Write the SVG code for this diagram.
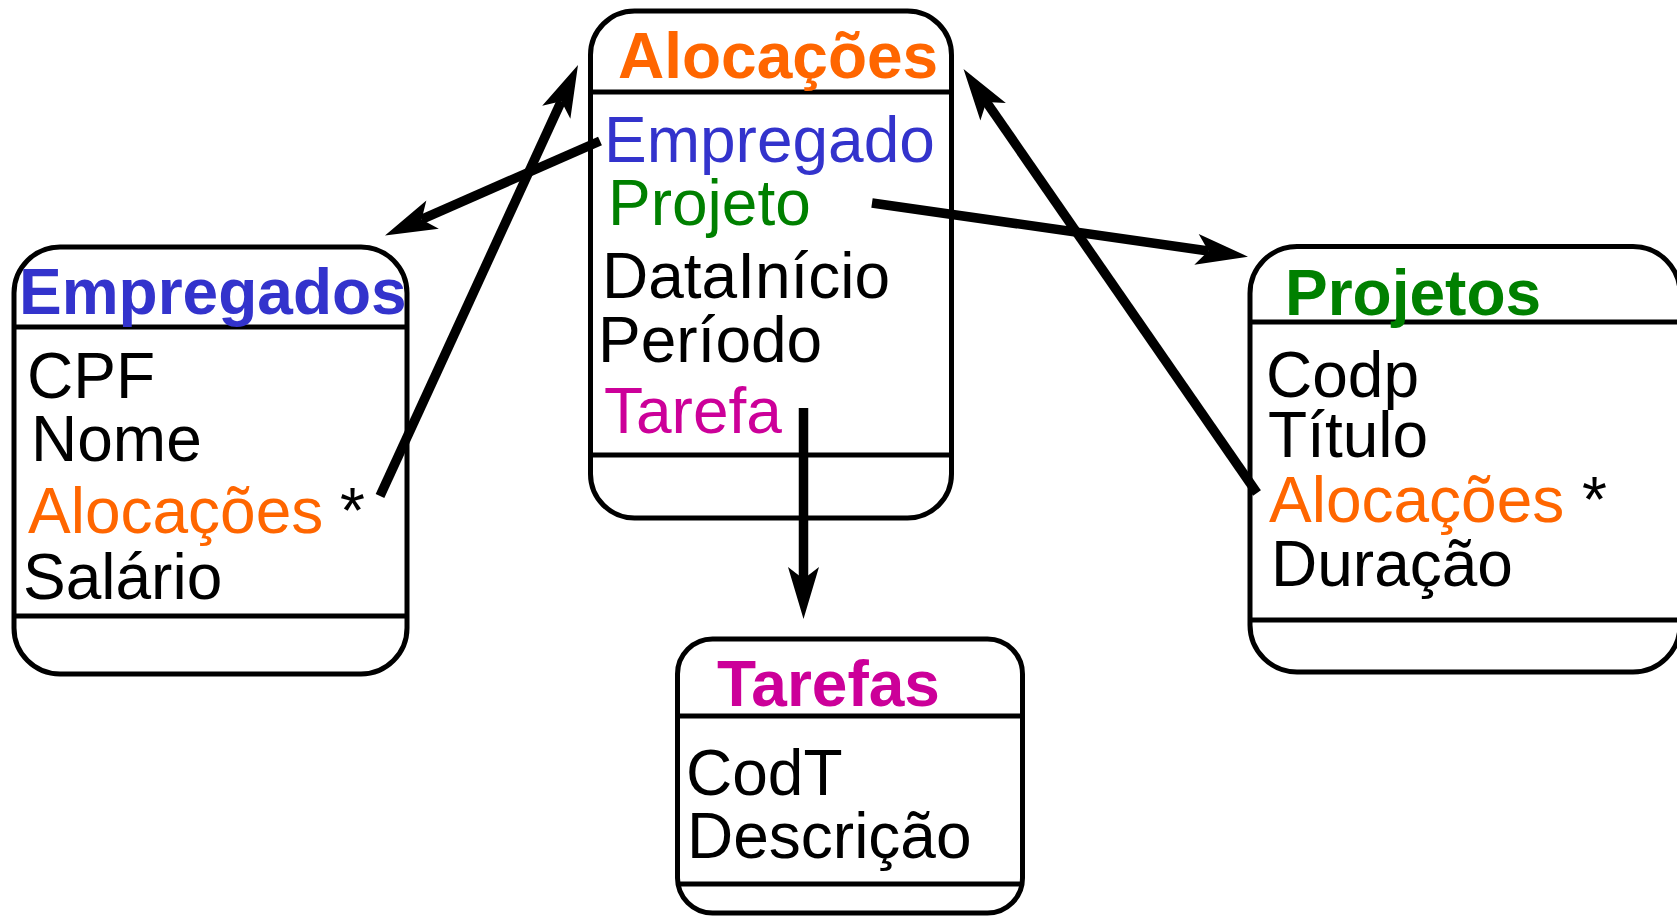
<svg xmlns="http://www.w3.org/2000/svg" width="1677" height="916" viewBox="0 0 1677 916">
<style>
.box{fill:#ffffff;stroke:#000000;stroke-width:5}
.sep{stroke:#000000;stroke-width:5;fill:none}
text{font-family:"Liberation Sans",Arial,Helvetica,sans-serif;font-size:64px;fill:#000000}
.title{font-weight:bold;font-size:64px}
.orange{fill:#FF6600}
.blue{fill:#3333CC}
.green{fill:#008000}
.magenta{fill:#CC0099}
.conn{stroke:#000000;stroke-width:9.5;fill:none;marker-end:url(#ah)}
</style>
<defs>
<marker id="ah" markerUnits="userSpaceOnUse" viewBox="-54 -18 56 36" markerWidth="56" markerHeight="36" refX="-40" refY="0" orient="auto">
<path d="M0,0 L-52,-15.5 L-40,0 L-52,15.5 Z" fill="#000000"/>
</marker>
</defs>
<rect width="1677" height="916" fill="#ffffff"/>

<g id="alocacoes">
<rect class="box" x="590.5" y="11" width="361" height="507" rx="44" ry="44"/>
<line class="sep" x1="590.5" y1="92" x2="951.5" y2="92"/>
<line class="sep" x1="590.5" y1="455" x2="951.5" y2="455"/>
<text class="title orange" x="618" y="78">Alocações</text>
<text class="blue" x="604" y="162">Empregado</text>
<text class="green" x="608" y="225">Projeto</text>
<text x="602" y="298">DataInício</text>
<text x="598" y="362">Período</text>
<text class="magenta" x="604" y="433">Tarefa</text>
</g>

<g id="empregados">
<rect class="box" x="14" y="247" width="393" height="427" rx="46" ry="46"/>
<line class="sep" x1="14" y1="327" x2="407" y2="327"/>
<line class="sep" x1="14" y1="616" x2="407" y2="616"/>
<text class="title blue" x="19" y="314">Empregados</text>
<text x="27" y="398">CPF</text>
<text x="31" y="461">Nome</text>
<text class="orange" x="28" y="533">Alocações</text>
<text x="340" y="533">*</text>
<text x="23" y="599">Salário</text>
</g>

<g id="projetos">
<rect class="box" x="1250" y="246.5" width="430" height="425.5" rx="47" ry="47"/>
<line class="sep" x1="1250" y1="322" x2="1680" y2="322"/>
<line class="sep" x1="1250" y1="620" x2="1680" y2="620"/>
<text class="title green" x="1285" y="315">Projetos</text>
<text x="1266" y="397">Codp</text>
<text x="1268" y="457">Título</text>
<text class="orange" x="1269" y="522">Alocações</text>
<text x="1582" y="522">*</text>
<text x="1271" y="586">Duração</text>
</g>

<g id="tarefas">
<rect class="box" x="677.5" y="639" width="345" height="274" rx="35" ry="35"/>
<line class="sep" x1="677.5" y1="716" x2="1022.5" y2="716"/>
<line class="sep" x1="677.5" y1="884" x2="1022.5" y2="884"/>
<text class="title magenta" x="717" y="706">Tarefas</text>
<text x="686" y="795">CodT</text>
<text x="687" y="858">Descrição</text>
</g>

<g id="connectors">
<line class="conn" x1="600" y1="141" x2="421.6" y2="219.4"/>
<line class="conn" x1="380" y1="496" x2="561.3" y2="101.3"/>
<line class="conn" x1="872" y1="203" x2="1208.4" y2="251"/>
<line class="conn" x1="1257" y1="493" x2="986.3" y2="101.9"/>
<line class="conn" x1="803.5" y1="408" x2="803.5" y2="579"/>
</g>
</svg>
